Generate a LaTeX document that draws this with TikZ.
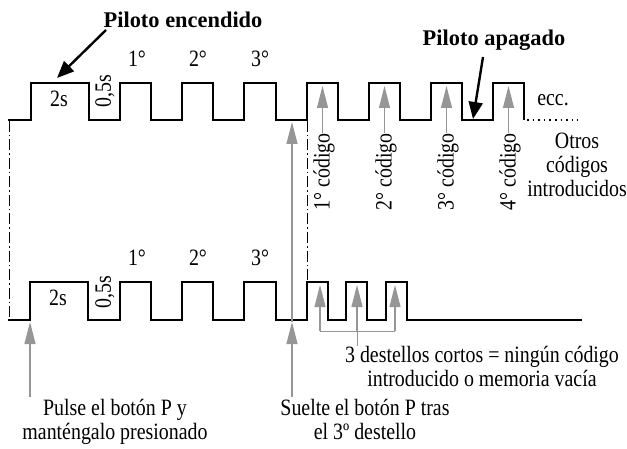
\documentclass[tikz,border=0pt]{standalone}
\usepackage{fontspec}
\setmainfont{Liberation Serif}[FakeStretch=0.85]
\newfontfamily\ttlfont{Liberation Serif}
\usetikzlibrary{arrows.meta}
\definecolor{arrowgray}{RGB}{150,150,150}
\begin{document}
\begin{tikzpicture}[x=1bp,y=-1bp,
  wave/.style={line width=2.3bp, line join=miter},
  dashdot/.style={line width=0.8bp, dash pattern=on 11bp off 3bp on 1.5bp off 3bp},
  grayarrow/.style={draw=arrowgray, line width=1.1bp, -{Triangle[length=22bp,width=11bp,fill=arrowgray]}},
  grayline/.style={draw=arrowgray, line width=1bp},
  blackarrow/.style={line width=2.4bp, -{Triangle[length=17bp,width=14bp]}},
  lbl/.style={font=\fontsize{23.5}{24}\selectfont, inner sep=0},
  ttl/.style={font=\ttlfont\bfseries\fontsize{22.5}{26}\selectfont, inner sep=0}]
\useasboundingbox (0,0) rectangle (627,449);

% ---------- waveforms ----------
\draw[wave] (8,120) -- (31,120) -- (31,83) -- (89,83) -- (89,120)
  -- (120,120) -- (120,83) -- (151,83) -- (151,120)
  -- (182,120) -- (182,83) -- (213,83) -- (213,120)
  -- (244,120) -- (244,83) -- (276,83) -- (276,120)
  -- (307,120) -- (307,83) -- (338,83) -- (338,120)
  -- (369,120) -- (369,83) -- (400,83) -- (400,120)
  -- (431,120) -- (431,83) -- (462,83) -- (462,120)
  -- (493,120) -- (493,83) -- (524,83) -- (524,120);
\draw[line width=1.6bp, dash pattern=on 1.6bp off 4bp] (527,120) -- (578,120);

\draw[wave] (8,320) -- (30,320) -- (30,282) -- (88,282) -- (88,320)
  -- (120,320) -- (120,282) -- (151,282) -- (151,320)
  -- (182,320) -- (182,282) -- (213,282) -- (213,320)
  -- (244,320) -- (244,282) -- (276,282) -- (276,320)
  -- (307,320) -- (307,282) -- (328,282) -- (328,320)
  -- (346,320) -- (346,282) -- (367,282) -- (367,320)
  -- (386,320) -- (386,282) -- (407,282) -- (407,320)
  -- (582,320);

% dash-dot guides
\draw[dashdot] (9,121) -- (9,320);
\draw[dashdot] (307,121) -- (307,282);

% ---------- titles ----------
\node[ttl, anchor=base] (on) at (183,28) {Piloto encendido};
\node[ttl, anchor=base] (off) at (494,46) {Piloto apagado};
\coordinate (onTail) at (106,30);
\coordinate (onTip) at (57,78);
\coordinate (offTail) at (483,57);
\coordinate (offTip) at (473,119);
\draw[blackarrow] (onTail) -- (onTip);
\draw[blackarrow] (offTail) -- (offTip);

% ---------- pulse labels ----------
\node[lbl, anchor=base] (t1) at (137,67) {1°};
\node[lbl, anchor=base] (t2) at (198,67) {2°};
\node[lbl, anchor=base] (t3) at (260,67) {3°};
\node[lbl, anchor=base] (t2s) at (59,107) {2s};
\node[lbl, rotate=90] (t05) at (105,91) {0,5s};

\node[lbl, anchor=base] (u1) at (137,266) {1°};
\node[lbl, anchor=base] (u2) at (198,266) {2°};
\node[lbl, anchor=base] (u3) at (260,266) {3°};
\node[lbl, anchor=base] (u2s) at (58,306) {2s};
\node[lbl, rotate=90] (u05) at (105,292) {0,5s};

% ---------- codes ----------
\node[lbl, rotate=90, anchor=east] (c1) at (324,133) {1° código};
\node[lbl, rotate=90, anchor=east] (c2) at (386,133) {2° código};
\node[lbl, rotate=90, anchor=east] (c3) at (448,133) {3° código};
\node[lbl, rotate=90, anchor=east] (c4) at (510,133) {4° código};
\coordinate (k1) at (322.5,86);
\coordinate (k2) at (384.5,86);
\coordinate (k3) at (446.5,86);
\coordinate (k4) at (508.5,86);
\draw[grayarrow] (c1.east -| k1) -- (k1);
\draw[grayarrow] (c2.east -| k2) -- (k2);
\draw[grayarrow] (c3.east -| k3) -- (k3);
\draw[grayarrow] (c4.east -| k4) -- (k4);

\node[lbl, anchor=base] (ecc) at (553,106) {ecc.};
\node[lbl, align=center, anchor=north] (otros) at (577,133) {Otros\\códigos\\introducidos};

% ---------- short flashes ----------
\coordinate (b1) at (320,331);
\coordinate (b2) at (357,331);
\coordinate (b3) at (395,331);
\coordinate (b1t) at (320,285);
\coordinate (b2t) at (357,285);
\coordinate (b3t) at (395,285);
\draw[grayline] (b1) -- (b3);
\draw[grayarrow] (b1) -- (b1t);
\draw[grayarrow] (b2) -- (b2t);
\draw[grayarrow] (b3) -- (b3t);
\node[lbl, align=center, anchor=north] (note) at (482,346) {3 destellos cortos = ningún código\\introducido o memoria vacía};
\draw[grayline] (b2) -- (b2 |- note.north);

% ---------- bottom captions ----------
\node[lbl, align=center, anchor=north] (press) at (115,399) {Pulse el botón P y\\manténgalo presionado};
\node[lbl, align=center, anchor=north] (release) at (365,399) {Suelte el botón P tras\\el 3º destello};
\coordinate (pTail) at (30,397);
\coordinate (pTip) at (30,322);
\coordinate (rTail) at (292,397);
\coordinate (rMid) at (292,322);
\coordinate (rTip) at (292,122);
\draw[grayarrow] (pTail) -- (pTip);
\draw[grayarrow] (rTail) -- (rMid);
\draw[grayarrow] (rMid) -- (rTip);
\end{tikzpicture}
\end{document}
